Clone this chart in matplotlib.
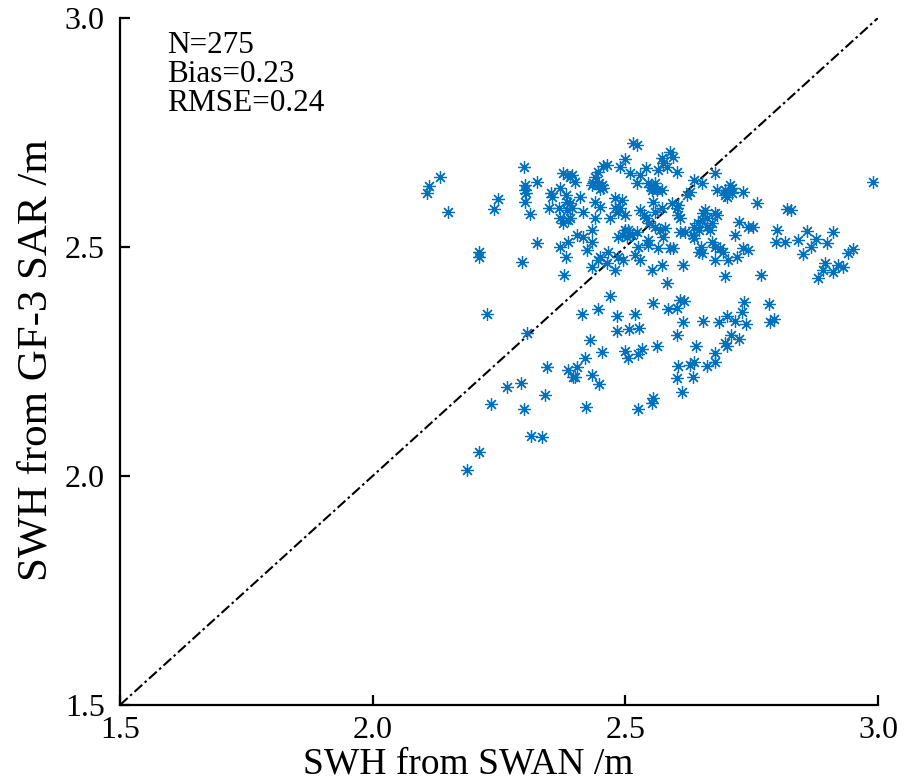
import matplotlib
matplotlib.use("Agg")
import matplotlib.pyplot as plt
import numpy as np

plt.rcParams['font.family'] = ['Liberation Serif', 'DejaVu Serif']

# SWH values (SWAN, GF-3 SAR), in metres
swan = [2.112, 2.108, 2.134, 2.150, 2.249, 2.241, 2.211, 2.211, 2.227, 2.296,
        2.306, 2.300, 2.302, 2.302, 2.304, 2.326, 2.302, 2.312, 2.353, 2.355,
        2.371, 2.348, 2.369, 2.377, 2.385, 2.383, 2.385, 2.385, 2.371, 2.377,
        2.326, 2.387, 2.379, 2.346, 2.387, 2.266, 2.294, 2.342, 2.235, 2.300,
        2.423, 2.447, 2.314, 2.336, 2.211, 2.187,
        2.500, 2.490, 2.464, 2.456, 2.445, 2.441, 2.437, 2.447, 2.454, 2.456,
        2.450, 2.395, 2.401, 2.391, 2.395, 2.387, 2.411, 2.417, 2.441, 2.450,
        2.441, 2.480, 2.494, 2.480, 2.490, 2.500, 2.486, 2.470, 2.510, 2.530,
        2.540, 2.524, 2.544, 2.550, 2.555, 2.559, 2.553, 2.530, 2.536, 2.555,
        2.559, 2.500, 2.506, 2.504, 2.494, 2.486, 2.514, 2.524, 2.544, 2.526,
        2.520, 2.486, 2.435, 2.417, 2.435, 2.425, 2.466, 2.450, 2.435, 2.496,
        2.516, 2.524, 2.391, 2.435, 2.391, 2.405, 2.445, 2.383, 2.371, 2.464,
        2.480, 2.553, 2.573, 2.615,
        2.589, 2.573, 2.575, 2.583, 2.595, 2.565, 2.603, 2.678, 2.635, 2.652,
        2.563, 2.573, 2.629, 2.623, 2.593, 2.605, 2.603, 2.682, 2.698, 2.708,
        2.712, 2.702, 2.732, 2.761, 2.540, 2.546, 2.559, 2.569, 2.609, 2.605,
        2.658, 2.654, 2.678, 2.662, 2.652, 2.643, 2.635, 2.662, 2.672, 2.645,
        2.609, 2.619, 2.635, 2.633, 2.724, 2.718, 2.743, 2.753, 2.544, 2.565,
        2.589, 2.595, 2.649, 2.645, 2.652, 2.672, 2.678, 2.688, 2.694, 2.732,
        2.743, 2.704, 2.722, 2.678, 2.530, 2.575, 2.579, 2.573,
        2.712, 2.698, 2.820, 2.828, 2.990, 2.682, 2.668, 2.800, 2.798, 2.816,
        2.842, 2.859, 2.877, 2.867, 2.851, 2.911, 2.899, 2.950, 2.941, 2.895,
        2.891, 2.911, 2.921, 2.931, 2.881, 2.698, 2.769,
        2.583, 2.470, 2.555, 2.585, 2.603, 2.609, 2.617, 2.734, 2.784, 2.415,
        2.445, 2.484, 2.520, 2.702, 2.730, 2.718, 2.686, 2.654, 2.615, 2.739,
        2.786, 2.794, 2.484, 2.508, 2.528, 2.602, 2.710, 2.725, 2.698, 2.702,
        2.431, 2.563, 2.534, 2.526, 2.500, 2.506, 2.640, 2.678, 2.678, 2.662,
        2.454, 2.421, 2.605, 2.629, 2.635, 2.397, 2.405, 2.401, 2.435, 2.602,
        2.633, 2.613, 2.555, 2.553, 2.526]

sar = [2.633, 2.618, 2.653, 2.576, 2.605, 2.583, 2.489, 2.478, 2.354, 2.467,
       2.312, 2.675, 2.635, 2.624, 2.618, 2.642, 2.598, 2.572, 2.618, 2.609,
       2.629, 2.585, 2.585, 2.662, 2.657, 2.614, 2.598, 2.581, 2.563, 2.552,
       2.509, 2.511, 2.439, 2.238, 2.231, 2.194, 2.203, 2.177, 2.157, 2.146,
       2.151, 2.201, 2.087, 2.085, 2.052, 2.013,
       2.692, 2.675, 2.679, 2.677, 2.664, 2.653, 2.640, 2.640, 2.635, 2.629,
       2.627, 2.657, 2.642, 2.596, 2.585, 2.559, 2.609, 2.576, 2.598, 2.587,
       2.563, 2.607, 2.603, 2.585, 2.585, 2.570, 2.576, 2.563, 2.662, 2.657,
       2.672, 2.640, 2.640, 2.631, 2.629, 2.640, 2.624, 2.581, 2.570, 2.598,
       2.576, 2.537, 2.537, 2.522, 2.526, 2.522, 2.526, 2.533, 2.515, 2.500,
       2.483, 2.478, 2.537, 2.522, 2.511, 2.493, 2.489, 2.478, 2.456, 2.472,
       2.727, 2.723, 2.653, 2.635, 2.563, 2.526, 2.472, 2.478, 2.500, 2.465,
       2.450, 2.450, 2.461, 2.461,
       2.707, 2.694, 2.683, 2.675, 2.696, 2.668, 2.664, 2.662, 2.646, 2.640,
       2.624, 2.624, 2.620, 2.614, 2.596, 2.592, 2.585, 2.624, 2.624, 2.635,
       2.618, 2.609, 2.620, 2.596, 2.563, 2.552, 2.544, 2.537, 2.563, 2.570,
       2.581, 2.574, 2.574, 2.563, 2.559, 2.552, 2.544, 2.544, 2.552, 2.537,
       2.533, 2.533, 2.520, 2.526, 2.555, 2.526, 2.544, 2.544, 2.504, 2.498,
       2.498, 2.498, 2.500, 2.489, 2.487, 2.511, 2.500, 2.498, 2.489, 2.498,
       2.493, 2.472, 2.478, 2.472, 2.472, 2.522, 2.541, 2.585,
       2.629, 2.614, 2.583, 2.581, 2.642, 2.570, 2.537, 2.537, 2.511, 2.511,
       2.515, 2.535, 2.517, 2.500, 2.485, 2.533, 2.509, 2.496, 2.487, 2.465,
       2.450, 2.445, 2.461, 2.456, 2.432, 2.437, 2.439,
       2.421, 2.393, 2.378, 2.365, 2.367, 2.384, 2.382, 2.380, 2.376, 2.354,
       2.365, 2.349, 2.354, 2.349, 2.358, 2.338, 2.336, 2.338, 2.336, 2.332,
       2.336, 2.343, 2.317, 2.321, 2.323, 2.308, 2.308, 2.299, 2.290, 2.284,
       2.297, 2.284, 2.277, 2.266, 2.273, 2.258, 2.284, 2.269, 2.249, 2.240,
       2.271, 2.258, 2.240, 2.242, 2.249, 2.216, 2.238, 2.216, 2.221, 2.214,
       2.216, 2.184, 2.171, 2.160, 2.146]

stats = ["N=275", "Bias=0.23", "RMSE=0.24"]
ticks = [1.5, 2.0, 2.5, 3.0]

fig = plt.figure(figsize=(9.18, 7.82), dpi=100)
ax = fig.add_axes([0.1307, 0.0985, 0.8257, 0.8785])

ax.plot([1.5, 3.0], [1.5, 3.0], color='black', lw=1.5,
        linestyle=(0, (5, 1.6, 1.2, 1.6)))
ax.plot(swan, sar, linestyle='none', marker=(8, 2, 0), ms=9, mew=0.9,
        color='#0072BD')

ax.set_xlim(1.5, 3.0)
ax.set_ylim(1.5, 3.0)
ax.set_xticks(ticks)
ax.set_yticks(ticks)
ax.set_xticklabels([f"{t:.1f}" for t in ticks])
ax.set_yticklabels([f"{t:.1f}" for t in ticks])
ax.tick_params(direction='in', length=7, width=1.6, labelsize=23)
ax.tick_params(axis='x', pad=8)
ax.tick_params(axis='y', pad=11)
for s in ['top', 'right']:
    ax.spines[s].set_visible(False)
for s in ['left', 'bottom']:
    ax.spines[s].set_linewidth(1.6)

ax.set_xlabel("SWH from SWAN /m", fontsize=27)
ax.set_ylabel("SWH from GF-3 SAR /m", fontsize=31)
ax.xaxis.set_label_coords(0.459, -0.061)
ax.yaxis.set_label_coords(-0.085, 0.502)

for i, s in enumerate(stats):
    ax.text(0.062, 0.949 - i * 0.042, s, transform=ax.transAxes,
            fontsize=22.5, va='baseline', ha='left')

fig.savefig("out.png", dpi=100)
